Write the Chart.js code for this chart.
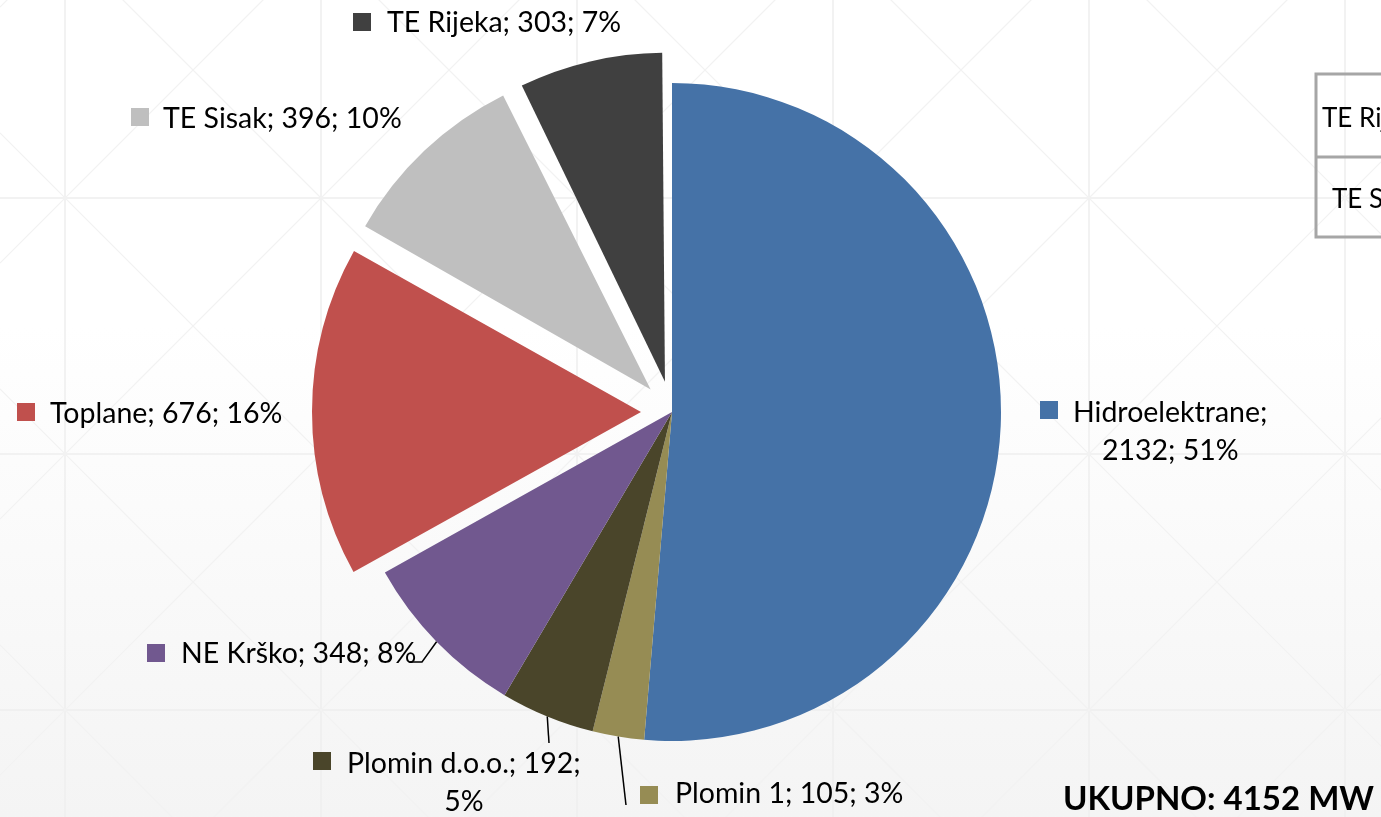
<!DOCTYPE html>
<html>
<head>
<meta charset="utf-8">
<script src="https://cdn.jsdelivr.net/npm/chart.js@4.4.1/dist/chart.umd.min.js"></script>
<style>
  html, body { margin: 0; padding: 0; background: #ffffff; }
  #wrap { position: relative; width: 1381px; height: 817px; overflow: hidden; }
</style>
</head>
<body>
<div id="wrap"><canvas id="chart"></canvas></div>
<script>
// capacity by plant group (MW)
const categories = ["Hidroelektrane", "Plomin 1", "Plomin d.o.o.", "NE Krško", "Toplane", "TE Sisak", "TE Rijeka"];
const capacityMW = [2132, 105, 192, 348, 676, 396, 303];
const shareLabels = ["51%", "3%", "5%", "8%", "16%", "10%", "7%"];
const explodedSlices = ["Toplane", "TE Sisak", "TE Rijeka"];
const totalLabel = "UKUPNO: 4152 MW";
const tableRows = ["TE Rijeka", "TE Sisak"];

const sliceColors = ["#4572a7", "#968c54", "#4a452a", "#71588f", "#c0504d", "#bfbfbf", "#404040"];
const EXPLODE = 124; // chart.js moves the arc by offset / 4
const FONT = "Lato, 'Open Sans', sans-serif";

// label placement: colour square, first text line start (x) and baseline (y)
const labelLayout = [
  { sq: [1040, 401], x: 1073, y: 422, wrap: "name" },
  { sq: [640, 786], x: 675, y: 803 },
  { sq: [313, 752], x: 347, y: 773, wrap: "value" },
  { sq: [147, 644], x: 181, y: 663 },
  { sq: [17, 403], x: 50, y: 423 },
  { sq: [131, 108], x: 163, y: 128 },
  { sq: [353, 13], x: 387, y: 32 }
];
// leader line end points, starting from the slice edge
const leaderLayout = [null, [[626, 805]], [[549, 743]], [[422, 662], [410, 662]], null, null, null];

const labelLines = (i) => {
  const name = categories[i], val = capacityMW[i], pct = shareLabels[i];
  const wrap = labelLayout[i].wrap;
  if (wrap === "name") return [name + ";", val + "; " + pct];
  if (wrap === "value") return [name + "; " + val + ";", pct];
  return [name + "; " + val + "; " + pct];
};

const backgroundPlugin = {
  id: "slideBackground",
  beforeDraw(chart) {
    const { ctx, width, height } = chart;
    ctx.save();
    const grad = ctx.createLinearGradient(0, 0, 0, height);
    grad.addColorStop(0, "#ffffff");
    grad.addColorStop(0.4, "#ffffff");
    grad.addColorStop(1, "#f4f4f4");
    ctx.fillStyle = grad;
    ctx.fillRect(0, 0, width, height);

    ctx.strokeStyle = "#eeeeee";
    ctx.lineWidth = 1.5;
    ctx.beginPath();
    for (let x = 65; x < width; x += 256) { ctx.moveTo(x, 0); ctx.lineTo(x, height); }
    for (let y = 198 - 256; y < height; y += 256) { ctx.moveTo(0, y); ctx.lineTo(width, y); }
    ctx.stroke();

    ctx.strokeStyle = "#f2f2f2";
    ctx.lineWidth = 1.2;
    ctx.beginPath();
    for (let c = 133 - 256 * 6; c < height + 256; c += 256) {
      ctx.moveTo(0, c); ctx.lineTo(width, c + width);
    }
    for (let c = 263 - 256; c < width + height + 256; c += 256) {
      ctx.moveTo(0, c); ctx.lineTo(width, c - width);
    }
    ctx.stroke();
    ctx.restore();
  }
};

// keep exploded slices at the same radius as the others
const explodeFixPlugin = {
  id: "explodeFix",
  beforeDatasetsDraw(chart) {
    const meta = chart.getDatasetMeta(0);
    const baseR = meta.controller.outerRadius;
    meta.data.forEach((arc, i) => {
      const off = (chart.data.datasets[0].offset[i] || 0) / 4;
      const circ = arc.endAngle - arc.startAngle;
      const fix = 1 - Math.sin(Math.min(Math.PI, circ));
      arc.outerRadius = baseR - off * fix;
    });
  }
};

const labelPlugin = {
  id: "sliceLabels",
  afterDatasetsDraw(chart) {
    const { ctx } = chart;
    const meta = chart.getDatasetMeta(0);
    const baseR = meta.controller.outerRadius;
    ctx.save();
    ctx.font = "28.5px " + FONT;
    ctx.textBaseline = "alphabetic";
    ctx.fillStyle = "#000000";

    categories.forEach((name, i) => {
      const lay = labelLayout[i];
      ctx.fillStyle = sliceColors[i];
      ctx.fillRect(lay.sq[0], lay.sq[1], 18, 18);
      ctx.fillStyle = "#000000";
      const lines = labelLines(i);
      ctx.textAlign = "left";
      ctx.fillText(lines[0], lay.x, lay.y);
      if (lines.length > 1) {
        const mid = lay.x + ctx.measureText(lines[0]).width / 2;
        ctx.textAlign = "center";
        for (let k = 1; k < lines.length; k++) ctx.fillText(lines[k], mid, lay.y + 38 * k);
      }

      const leader = leaderLayout[i];
      if (leader) {
        const arc = meta.data[i];
        const a = (arc.startAngle + arc.endAngle) / 2;
        ctx.strokeStyle = "#000000";
        ctx.lineWidth = 1.5;
        ctx.beginPath();
        ctx.moveTo(arc.x + Math.cos(a) * baseR, arc.y + Math.sin(a) * baseR);
        leader.forEach(p => ctx.lineTo(p[0], p[1]));
        ctx.stroke();
      }
    });

    // piece of the neighbouring table on the slide
    ctx.strokeStyle = "#a6a6a6";
    ctx.lineWidth = 3;
    ctx.strokeRect(1316, 74, 120, 163);
    ctx.beginPath();
    ctx.moveTo(1316, 157); ctx.lineTo(1400, 157);
    ctx.stroke();
    ctx.fillStyle = "#000000";
    ctx.textAlign = "left";
    ctx.font = "26px " + FONT;
    ctx.fillText(tableRows[0], 1322, 127);
    ctx.fillText(tableRows[1], 1332, 208);

    ctx.font = "bold 33px " + FONT;
    ctx.textAlign = "right";
    ctx.fillText(totalLabel, 1374, 810);
    ctx.restore();
  }
};

const ctx = document.getElementById("chart").getContext("2d");
new Chart(ctx, {
  type: "pie",
  data: {
    labels: categories,
    datasets: [{
      data: capacityMW,
      backgroundColor: sliceColors,
      borderWidth: 0,
      offset: categories.map(c => explodedSlices.includes(c) ? EXPLODE : 0),
      clip: false
    }]
  },
  options: {
    responsive: true,
    maintainAspectRatio: false,
    animation: false,
    events: [],
    radius: 329,
    layout: { padding: { left: 0, right: 37, top: 7, bottom: 0 } },
    plugins: {
      legend: { display: false },
      tooltip: { enabled: false },
      title: { display: false }
    }
  },
  plugins: [backgroundPlugin, explodeFixPlugin, labelPlugin]
});
</script>
</body>
</html>
